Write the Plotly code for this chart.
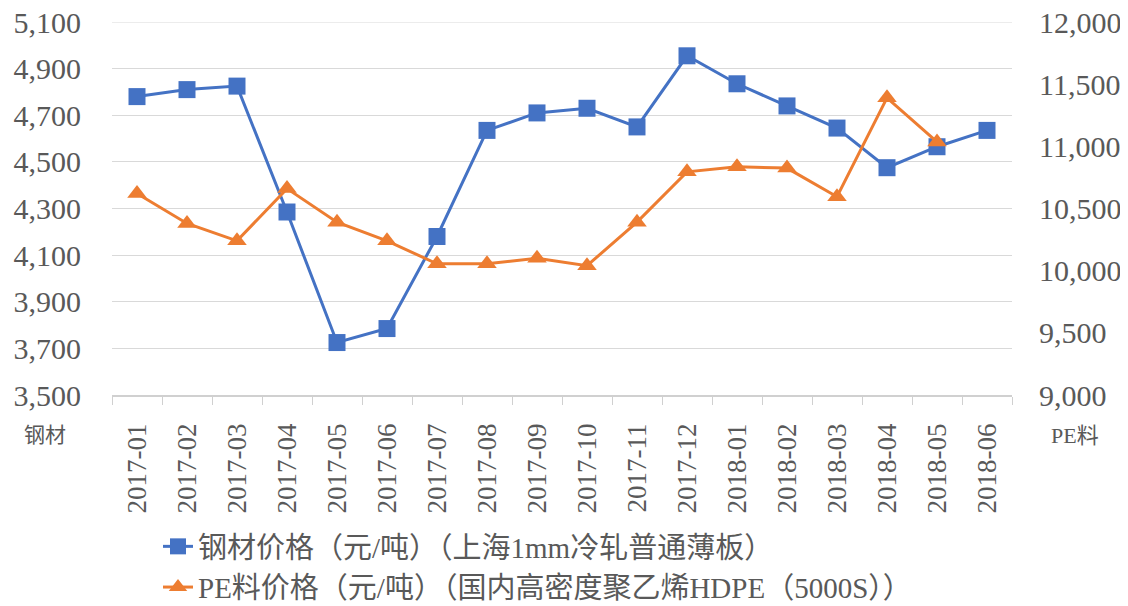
import plotly.graph_objects as go

months = ["2017-01", "2017-02", "2017-03", "2017-04", "2017-05", "2017-06",
          "2017-07", "2017-08", "2017-09", "2017-10", "2017-11", "2017-12",
          "2018-01", "2018-02", "2018-03", "2018-04", "2018-05", "2018-06"]
steel = [4780, 4810, 4825, 4285, 3725, 3785, 4180, 4635, 4710, 4730, 4650, 4955,
         4835, 4740, 4645, 4475, 4565, 4635]
pe = [10620, 10380, 10240, 10660, 10390, 10240, 10055, 10055, 10100, 10040, 10390,
      10795, 10835, 10825, 10595, 11390, 11035]

steel_name = "钢材价格（元/吨）（上海1mm冷轧普通薄板）"
pe_name = "PE料价格（元/吨）（国内高密度聚乙烯HDPE（5000S））"
left_unit = "钢材"
right_unit = "PE料"

BLUE = "#4472C4"
ORANGE = "#ED7D31"
GREY = "#595959"
GRID = "#d9d9d9"
SERIF = "Liberation Serif"
MIXED = "Liberation Serif, Noto Sans CJK SC"

# page has an 8px body margin; work in page pixels and convert
OFF = 8
W, H = 1128 - OFF, 606 - OFF
px_left, px_right, px_top, px_bottom = 112, 1012, 22, 395  # plot area in page px
L = px_left - OFF
T = px_top - OFF
R = W - (px_right - OFF)
B = H - (px_bottom - OFF)
pw, ph = px_right - px_left, px_bottom - px_top


def paper_x(px):
    return (px - px_left) / pw


def paper_y(py):
    return (px_bottom - py) / ph


fig = go.Figure()
fig.add_trace(go.Scatter(x=months, y=steel, name=steel_name, mode="lines+markers",
                         line=dict(color=BLUE, width=3),
                         marker=dict(symbol="square", size=17, color=BLUE)))
fig.add_trace(go.Scatter(x=months[:len(pe)], y=pe, name=pe_name, mode="lines+markers",
                         yaxis="y2",
                         line=dict(color=ORANGE, width=3),
                         marker=dict(symbol="triangle-up", size=17, color=ORANGE)))

fig.update_layout(
    width=W, height=H,
    margin=dict(l=L, r=R, t=T, b=B, autoexpand=False),
    paper_bgcolor="white", plot_bgcolor="white",
    font=dict(family=MIXED, color=GREY, size=28),
    xaxis=dict(type="category", tickangle=-90,
               tickfont=dict(family=SERIF, size=27, color=GREY),
               showgrid=False, showline=True, linecolor="#d0d0d0", linewidth=1.5,
               ticks="outside", tickson="boundaries", ticklen=8, tickcolor="#d0d0d0",
               ticklabelstandoff=16, range=[-0.5, len(months) - 0.5]),
    yaxis=dict(range=[3500, 5100], tick0=3500, dtick=200, tickformat=",",
               showgrid=True, gridcolor=GRID, gridwidth=1.2, zeroline=False,
               ticklabeloverflow="allow",
               tickfont=dict(family=SERIF, size=30, color=GREY), ticklabelstandoff=30),
    yaxis2=dict(range=[9000, 12000], tick0=9000, dtick=500, tickformat=",",
                overlaying="y", side="right", showgrid=False, zeroline=False,
                ticklabeloverflow="allow",
                tickfont=dict(family=SERIF, size=30, color=GREY), ticklabelstandoff=26),
    legend=dict(orientation="v", x=paper_x(158), y=paper_y(521),
                xanchor="left", yanchor="top",
                font=dict(family=MIXED, size=29, color=GREY),
                bgcolor="rgba(0,0,0,0)", tracegroupgap=0),
    showlegend=True,
)

# top gridline at the upper end of the range
fig.add_shape(type="line", xref="paper", yref="y", x0=0, x1=1, y0=5100, y1=5100,
              line=dict(color=GRID, width=1.2), layer="below")

fig.add_annotation(text=left_unit, x=paper_x(45), y=paper_y(435),
                   xref="paper", yref="paper", showarrow=False,
                   font=dict(family=MIXED, size=21, color=GREY),
                   xanchor="center", yanchor="middle")
fig.add_annotation(text=right_unit, x=paper_x(1075), y=paper_y(435),
                   xref="paper", yref="paper", showarrow=False,
                   font=dict(family=MIXED, size=22, color=GREY),
                   xanchor="center", yanchor="middle")

fig.write_html("out.html")
